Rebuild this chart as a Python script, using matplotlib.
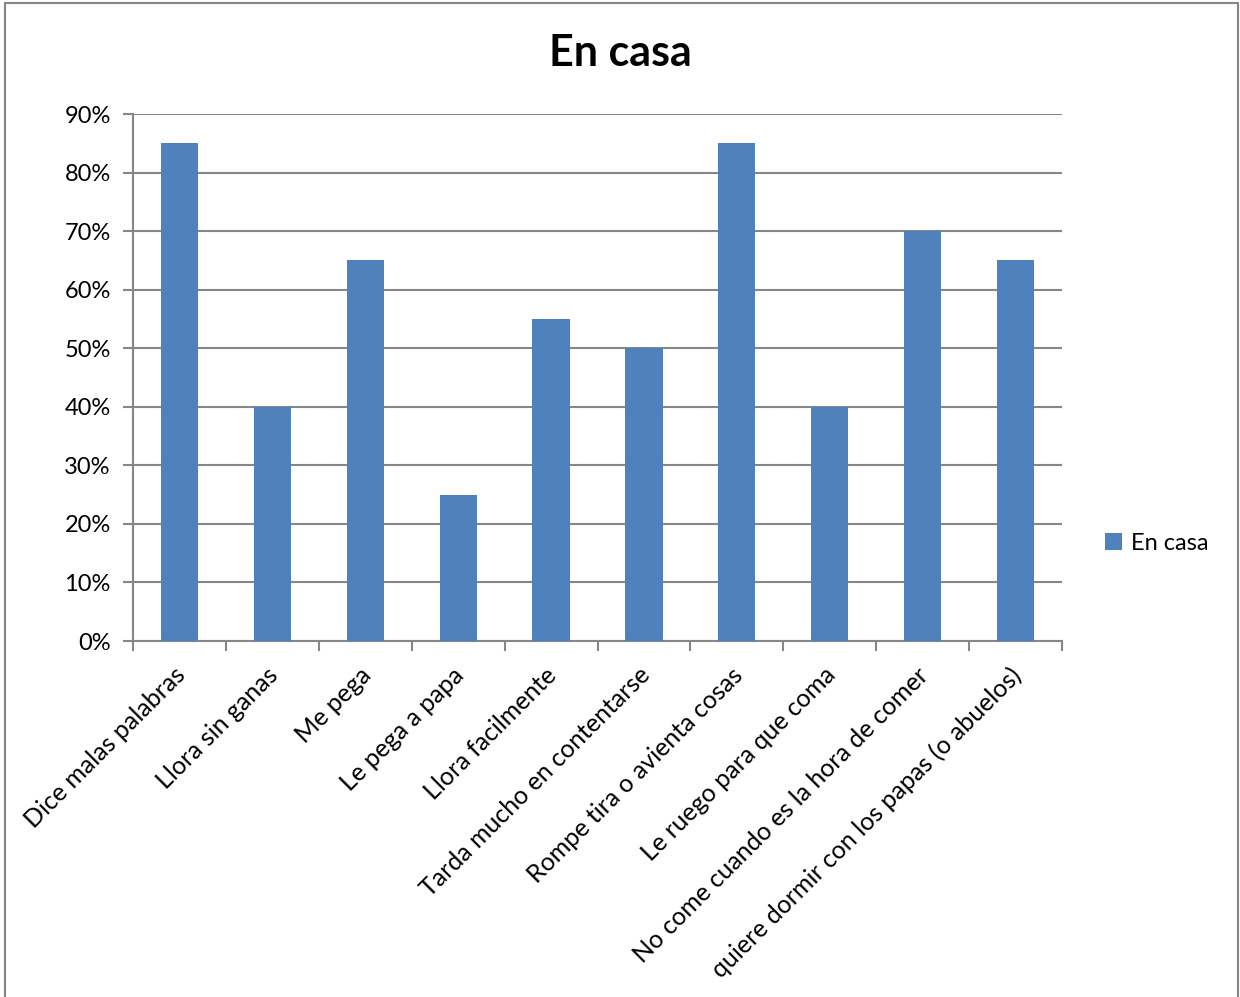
import matplotlib.pyplot as plt
import matplotlib.transforms as mtransforms
from matplotlib.patches import Rectangle
from matplotlib.ticker import FuncFormatter, MultipleLocator

categories = ['Dice malas palabras', 'Llora sin ganas', 'Me pega', 'Le pega a papa',
              'Llora facilmente', 'Tarda mucho en contentarse', 'Rompe tira o avienta cosas',
              'Le ruego para que coma', 'No come cuando es la hora de comer',
              'quiere dormir con los papas (o abuelos)']
values = [0.85, 0.40, 0.65, 0.25, 0.55, 0.50, 0.85, 0.40, 0.70, 0.65]
series_name = 'En casa'

plt.rcParams['font.family'] = ['Lato', 'DejaVu Sans']
gray = '#868686'
blue = '#4F81BD'

fig = plt.figure(figsize=(12.4, 9.97), dpi=100)
ax = fig.add_axes([133/1240, 1-641/997, (1062-133)/1240, (641-114)/997])

xs = range(len(categories))
bars = ax.bar(xs, values, width=0.4, color=blue, zorder=3, label=series_name)

ax.set_xlim(-0.5, len(categories)-0.5)
ax.set_ylim(0, 0.9)
ax.yaxis.set_major_locator(MultipleLocator(0.1))
ax.yaxis.set_major_formatter(FuncFormatter(lambda v, p: '%d%%' % round(v*100)))
ax.grid(axis='y', color=gray, linewidth=1.5, zorder=0)

# category boundaries get the tick marks, labels sit at the centers
ax.set_xticks([i-0.5 for i in range(len(categories)+1)])
ax.set_xticklabels([])
ax.set_xticks(list(xs), minor=True)
ax.set_xticklabels(categories, minor=True, rotation=45, ha='right', va='top',
                   rotation_mode='anchor', fontsize=18)
ax.tick_params(axis='x', which='minor', length=0, pad=16)
ax.tick_params(axis='x', which='major', length=7, width=1.5, color=gray)
ax.tick_params(axis='y', length=7, width=1.5, color=gray, labelsize=17, pad=9)
shift = mtransforms.ScaledTranslation(-6/100, 0, fig.dpi_scale_trans)
for lbl in ax.get_xticklabels(minor=True):
    lbl.set_transform(lbl.get_transform() + shift)

for s in ['top', 'right']:
    ax.spines[s].set_visible(False)
for s in ['left', 'bottom']:
    ax.spines[s].set_color(gray)
    ax.spines[s].set_linewidth(1.5)

fig.text(0.5, 1-53/997, 'En casa', ha='center', va='center', fontsize=31, fontweight='bold')

fig.legend(handles=[bars], labels=[series_name], loc='center left',
           bbox_to_anchor=(1084/1240, 1-543/997), frameon=False, fontsize=17,
           handlelength=0.7, handleheight=0.7, handletextpad=0.4)

# outer chart frame
fig.patches.append(Rectangle((5/1240, -0.05), (1238-5)/1240, 1.05-3/997,
                             transform=fig.transFigure, fill=False,
                             edgecolor=gray, linewidth=1.5))

fig.savefig('out.png', dpi=100)
